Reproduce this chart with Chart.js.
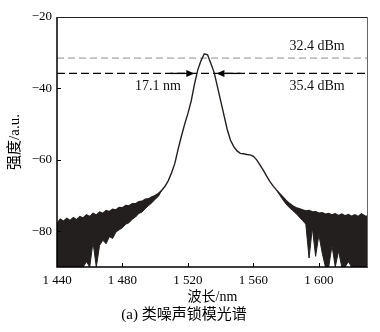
<!DOCTYPE html>
<html>
<head>
<meta charset="utf-8">
<script src="https://cdn.jsdelivr.net/npm/chart.js@4/dist/chart.umd.min.js"></script>
<style>
  html, body { margin: 0; padding: 0; background: #fff; }
  #wrap { width: 380px; height: 332px; }
</style>
</head>
<body>
<div id="wrap"><canvas id="spectrum" width="380" height="332"></canvas></div>
<script>
// noise-like mode-locked spectrum, every 2 nm

const wavelengths = [
  1440, 1442, 1444, 1446, 1448, 1450, 1452, 1454, 1456, 1458,
  1460, 1462, 1464, 1466, 1468, 1470, 1472, 1474, 1476, 1478,
  1480, 1482, 1484, 1486, 1488, 1490, 1492, 1494, 1496, 1498,
  1500, 1502, 1504, 1506, 1508, 1510, 1512, 1514, 1516, 1518,
  1520, 1522, 1524, 1526, 1528, 1530, 1532, 1534, 1536, 1538,
  1540, 1542, 1544, 1546, 1548, 1550, 1552, 1554, 1556, 1558,
  1560, 1562, 1564, 1566, 1568, 1570, 1572, 1574, 1576, 1578,
  1580, 1582, 1584, 1586, 1588, 1590, 1592, 1594, 1596, 1598,
  1600, 1602, 1604, 1606, 1608, 1610, 1612, 1614, 1616, 1618,
  1620, 1622, 1624, 1626, 1628, 1630,
];

// upper edge of the trace
const traceTop = [
  -77.8, -76.6, -77.2, -76.4, -77.0, -76.2, -76.8, -75.9, -76.3, -75.4,
  -75.9, -75.0, -75.5, -74.6, -75.0, -74.2, -74.5, -73.8, -74.0, -73.3,
  -73.4, -72.8, -72.9, -72.3, -72.3, -71.7, -71.6, -71.0, -70.9, -70.4,
  -70.0, -69.4, -68.5, -67.4, -65.8, -63.6, -61.0, -57.0, -53.4, -50.0,
  -47.0, -43.5, -38.8, -34.8, -32.2, -30.3, -30.6, -33.0, -35.5, -39.5,
  -43.5, -47.5, -51.5, -54.5, -56.3, -57.5, -58.2, -58.3, -58.5, -58.6,
  -59.0, -60.0, -61.4, -62.9, -64.5, -66.0, -67.3, -68.4, -69.4, -70.4,
  -71.4, -72.2, -72.9, -73.4, -73.7, -74.0, -74.3, -74.2, -74.6, -74.5,
  -74.9, -74.8, -75.2, -75.0, -75.4, -75.1, -75.6, -75.2, -75.7, -75.3,
  -75.8, -75.4, -75.9, -75.1, -75.7, -75.8,
];

// lower edge of the noise band (null where the trace is a single line)
const noiseBottom = [
  -90, -90, -90, -90, -90, -90, -90, -90, -90, -88.5,
  -90, -83.0, -90, -84.0, -82.5, -83.5, -81.5, -82.0, -80.2, -79.6,
  -79.0, -78.0, -77.6, -76.6, -76.0, -75.0, -74.6, -73.6, -72.8, -72.0,
  -71.0, -70.2, -68.5, null, null, null, null, null, null, null,
  null, null, null, null, null, null, null, null, null, null,
  null, null, null, null, null, null, null, null, null, null,
  null, null, null, null, null, null, null, -68.4, -69.8, -71.2,
  -72.4, -73.4, -74.2, -75.0, -76.0, -77.0, -78.0, -87.5, -79.0, -87.0,
  -81.0, -86.0, -90, -90, -84.0, -90, -85.5, -90, -90, -88.5,
  -90, -90, -90, -90, -90, -90,
];

const xTicks = [1440, 1480, 1520, 1560, 1600];
const yTicks = [-20, -40, -60, -80];

const peakLevel = -31.5; // grey dashed line, 32.4 dBm
const halfLevel = -35.8; // black dashed line, 35.4 dBm
const arrowTips = [1523.9, 1537.4];
const arrowTails = [1509.2, 1552.1];

const SERIF = "'Liberation Serif', 'Noto Sans CJK SC', serif";
const INK = "#231f1e";

const toPoints = (ys) => wavelengths.map((w, i) => ({ x: w, y: ys[i] }));

// arrows, labels, inward ticks and the frame
const decorations = {
  id: "decorations",
  afterDatasetsDraw(chart) {
    const { ctx, scales: { x, y } } = chart;
    ctx.save();

    const yHalf = y.getPixelForValue(halfLevel);
    ctx.strokeStyle = "#000";
    ctx.fillStyle = "#000";
    ctx.lineWidth = 1.3;
    arrowTips.forEach((tip, i) => {
      const tx = x.getPixelForValue(tip);
      const sx = x.getPixelForValue(arrowTails[i]);
      const dir = Math.sign(tx - sx);
      ctx.beginPath();
      ctx.moveTo(sx, yHalf);
      ctx.lineTo(tx - dir * 6, yHalf);
      ctx.stroke();
      ctx.beginPath();
      ctx.moveTo(tx, yHalf);
      ctx.lineTo(tx - dir * 8, yHalf - 3.5);
      ctx.lineTo(tx - dir * 8, yHalf + 3.5);
      ctx.closePath();
      ctx.fill();
    });

    ctx.font = "14px " + SERIF;
    ctx.textAlign = "center";
    ctx.textBaseline = "middle";
    ctx.fillStyle = "#111";
    ctx.fillText("17.1 nm", x.getPixelForValue(1501.6), y.getPixelForValue(-39.3));
    ctx.fillText("32.4 dBm", x.getPixelForValue(1598.9), y.getPixelForValue(-28.1));
    ctx.fillText("35.4 dBm", x.getPixelForValue(1598.9), y.getPixelForValue(-39.5));
    ctx.restore();
  },
  afterDraw(chart) {
    const { ctx, chartArea: a, scales: { x, y } } = chart;
    ctx.save();
    ctx.strokeStyle = "#000";
    ctx.lineWidth = 1;
    ctx.beginPath();
    xTicks.forEach((v) => {
      const px = Math.round(x.getPixelForValue(v)) + 0.5;
      ctx.moveTo(px, a.bottom);
      ctx.lineTo(px, a.bottom - 4);
    });
    yTicks.forEach((v) => {
      const py = Math.round(y.getPixelForValue(v)) + 0.5;
      ctx.moveTo(a.left, py);
      ctx.lineTo(a.left + 4, py);
    });
    ctx.stroke();

    // frame: heavy left/bottom, light top/right
    ctx.lineWidth = 1.5;
    ctx.beginPath();
    ctx.moveTo(a.left, a.top);
    ctx.lineTo(a.left, a.bottom);
    ctx.lineTo(a.right, a.bottom);
    ctx.stroke();
    ctx.lineWidth = 1;
    ctx.strokeStyle = "#222";
    ctx.beginPath();
    ctx.moveTo(a.left, a.top + 0.5);
    ctx.lineTo(a.right, a.top + 0.5);
    ctx.stroke();
    ctx.strokeStyle = "#666";
    ctx.beginPath();
    ctx.moveTo(a.right - 0.5, a.top);
    ctx.lineTo(a.right - 0.5, a.bottom);
    ctx.stroke();
    ctx.restore();
  },
};

Chart.defaults.color = "#000";
Chart.defaults.font.family = SERIF;

new Chart(document.getElementById("spectrum"), {
  type: "line",
  data: {
    datasets: [
      {
        label: "trace",
        data: toPoints(traceTop),
        borderColor: INK,
        borderWidth: 1.4,
        pointRadius: 0,
        tension: 0,
        fill: false,
      },
      {
        label: "noise floor",
        data: toPoints(noiseBottom),
        borderColor: INK,
        borderWidth: 1,
        pointRadius: 0,
        tension: 0,
        backgroundColor: INK,
        fill: "-1",
      },
      {
        label: "peak level",
        data: [{ x: 1440, y: peakLevel }, { x: 1630, y: peakLevel }],
        borderColor: "#8f8f8f",
        borderWidth: 1,
        borderDash: [7, 4],
        pointRadius: 0,
        fill: false,
      },
      {
        label: "half level",
        data: [{ x: 1440, y: halfLevel }, { x: 1630, y: halfLevel }],
        borderColor: "#000",
        borderWidth: 1.3,
        borderDash: [8, 4],
        pointRadius: 0,
        fill: false,
      },
    ],
  },
  options: {
    responsive: false,
    animation: false,
    devicePixelRatio: 1,
    layout: { padding: { top: 17, right: 12, left: 0, bottom: 0 } },
    plugins: {
      legend: { display: false },
      tooltip: { enabled: false },
      title: {
        display: true,
        position: "bottom",
        text: "(a) 类噪声锁模光谱",
        color: "#000",
        font: { size: 15, weight: "normal", family: SERIF },
        padding: { top: 0, bottom: 7.5 },
      },
    },
    scales: {
      x: {
        type: "linear",
        min: 1440,
        max: 1630,
        afterFit: (scale) => { scale.height = 39.5; },
        afterBuildTicks: (scale) => { scale.ticks = xTicks.map((v) => ({ value: v })); },
        grid: { display: false, drawTicks: false },
        border: { display: false },
        ticks: {
          padding: 6,
          font: { size: 13 },
          callback: (v) => String(v).replace(/^(\d)(\d{3})$/, "$1 $2"),
        },
        title: {
          display: true,
          text: "波长/nm",
          font: { size: 14 },
          padding: { top: 0, bottom: 0.5 },
        },
      },
      y: {
        min: -90,
        max: -20,
        afterFit: (scale) => { scale.width = 57; },
        afterBuildTicks: (scale) => { scale.ticks = yTicks.map((v) => ({ value: v })); },
        grid: { display: false, drawTicks: false },
        border: { display: false },
        ticks: {
          padding: 5,
          font: { size: 13 },
          callback: (v) => "\u2212" + Math.abs(v),
        },
        title: {
          display: true,
          text: "强度/a.u.",
          font: { size: 15 },
          padding: { top: 6, bottom: 0 },
        },
      },
    },
  },
  plugins: [decorations],
});
</script>
</body>
</html>
